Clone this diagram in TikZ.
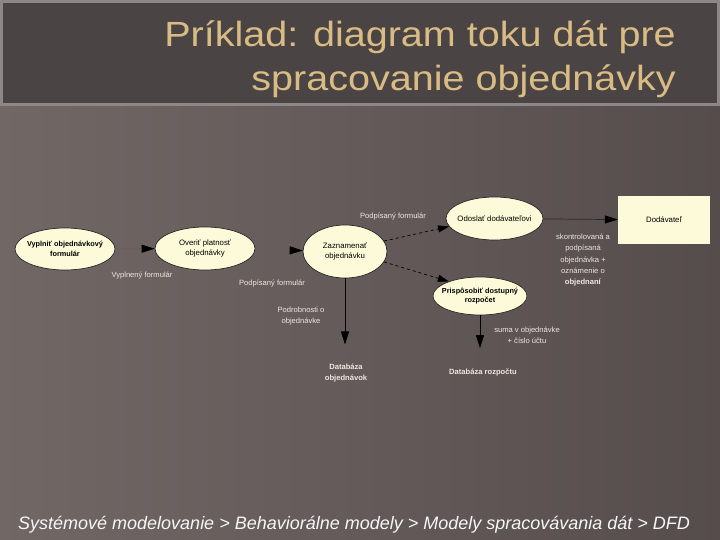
\documentclass[tikz,border=0pt]{standalone}
\usepackage{fontspec}
\usepackage{graphicx}
\setmainfont{Liberation Sans}
\usetikzlibrary{arrows.meta,shapes.geometric}
\definecolor{bgL}{HTML}{716866}
\definecolor{bgR}{HTML}{554C4C}
\definecolor{titlebg}{HTML}{4A4444}
\definecolor{titleborder}{HTML}{8E8787}
\definecolor{titlecol}{HTML}{D9BC84}
\definecolor{ellfill}{HTML}{FCFAD8}
\definecolor{lbl}{HTML}{ECE8E0}
\definecolor{faint}{HTML}{675E5C}
\definecolor{darkline}{HTML}{2E2828}
\begin{document}
\begin{tikzpicture}[x=1pt,y=-1pt,
  proc/.style={ellipse,draw=black!85,line width=0.7pt,fill=ellfill,inner sep=-14pt,
    align=center,text=black,font=\fontsize{7.8}{9.8}\selectfont},
  boldproc/.style={proc,font=\fontsize{7.3}{9.8}\selectfont\bfseries},
  ext/.style={rectangle,fill=ellfill,inner sep=0pt,minimum width=92pt,minimum height=48pt,
    text=black,font=\fontsize{7.8}{9.8}\selectfont},
  lab/.style={text=lbl,align=center,inner sep=0pt,font=\fontsize{7.6}{11}\selectfont},
  store/.style={text=lbl,align=center,inner sep=0pt,font=\fontsize{7.6}{11.5}\selectfont\bfseries},
  flow/.style={draw=darkline,line width=0.7pt,-{Triangle[length=13pt,width=8pt,color=black]}},
  dflow/.style={draw=black,line width=0.7pt,dashed,-{Triangle[length=11pt,width=7pt,color=black]}},
  hflow/.style={draw=faint,line width=0.7pt,-{Triangle[length=13pt,width=8pt,color=black]}},
  titletext/.style={anchor=base east,inner sep=0pt,text=titlecol,font=\fontsize{35}{40}\selectfont}
]
\useasboundingbox (0,0) rectangle (720,540);
\shade[left color=bgL,right color=bgR] (0,0) rectangle (720,540);
\draw[fill=titlebg,draw=titleborder,line width=3pt] (1.5,1.5) rectangle (718.5,105);
\node[titletext] (t1) at (676,47) {\scalebox{1.13}[1]{Príklad: diagram toku dát pre}};
\node[titletext] (t2) at (676,91) {\scalebox{1.13}[1]{spracovanie objednávky}};

\node[boldproc,minimum width=100pt,minimum height=42pt] (e1) at (65,249) {Vyplniť objednávkový\\formulár};
\node[proc,minimum width=100pt,minimum height=43pt] (e2) at (205,248.5) {Overiť platnosť\\objednávky};
\node[proc,minimum width=84pt,minimum height=53pt] (e3) at (345,251.5) {Zaznamenať\\objednávku};
\node[proc,minimum width=97pt,minimum height=43pt] (e4) at (494.5,218.5) {Odoslať dodávateľovi};
\node[boldproc,minimum width=94pt,minimum height=38pt] (e5) at (480,296) {Prispôsobiť dostupný\\rozpočet};
\node[ext] (d) at (664,220) {Dodávateľ};

\node[store] (dbo) at (346,373) {Databáza\\objednávok};
\node[store] (dbr) at (483,372) {Databáza rozpočtu};

\draw[hflow] (e1) -- (e2);
\draw[hflow] (e2) -- (e3);
\draw[dflow] (e3.15) -- (e4.190);
\draw[dflow] (e3.345) -- (e5.155);
\draw[flow] (e4) -- (d);
\draw[flow,draw=black] (e3.south) -- ([yshift=19pt]e3.south |- dbo.north);
\draw[flow,draw=black] (e5.south) -- ([yshift=20pt]e5.south |- dbr.north);

\node[lab] (l1) at (393,216) {Podpísaný formulár};
\node[lab] (l2) at (142,275) {Vyplnený formulár};
\node[lab] (l3) at (272,283) {Podpísaný formulár};
\node[lab] (l4) at (301,316) {Podrobnosti o\\objednávke};
\node[lab] (l5) at (527,335) {suma v objednávke\\+ číslo účtu};
\node[lab,font=\fontsize{7.6}{11.3}\selectfont] (l6) at (583,260) {skontrolovaná a\\podpísaná\\objednávka +\\oznámenie o\\\textbf{objednaní}};

\node[anchor=base west,inner sep=0pt,text=white!94!gray,font=\fontsize{18}{20}\selectfont\itshape] (f) at (18,529) {Systémové modelovanie > Behaviorálne modely > Modely spracovávania dát > DFD};
\end{tikzpicture}
\end{document}
